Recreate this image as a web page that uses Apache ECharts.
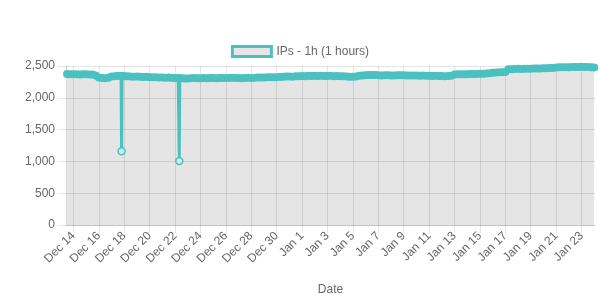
<!DOCTYPE html>
<html><head><meta charset="utf-8">
<script src="https://cdn.jsdelivr.net/npm/echarts@6/dist/echarts.min.js"></script>
<style>html,body{margin:0;padding:0;background:#fff}#c{width:600px;height:300px}</style>
</head><body><div id="c"></div>
<script>
const seriesName = 'IPs - 1h (1 hours)';
const xAxisName = 'Date';
const startTime = '2020-12-13T12:00:00';
const stepHours = 6;
const axisStart = '2020-12-13T10:00:00';
const axisEnd = '2021-01-24T01:30:00';
// 6-hourly readings (00,06,12,18) starting Dec 13 12:00
const ipValues = [
  2375, 2372,
  2370, 2372, 2368, 2370,
  2372, 2368, 2365, 2350,
  2318, 2310, 2308, 2315,
  2335, 2340, 2345, 2342,
  2340, 2338, 2335, 2332,
  2335, 2330, 2328, 2330,
  2325, 2322, 2325, 2320,
  2318, 2315, 2318, 2312,
  2310, 2308, 2308, 2305,
  2305, 2308, 2310, 2306,
  2308, 2310, 2307, 2310,
  2312, 2308, 2310, 2312,
  2310, 2313, 2315, 2312,
  2310, 2308, 2312, 2315,
  2312, 2315, 2318, 2320,
  2318, 2322, 2325, 2322,
  2325, 2328, 2330, 2333,
  2335, 2332, 2338, 2340,
  2342, 2340, 2345, 2343,
  2345, 2342, 2346, 2344,
  2342, 2345, 2340, 2343,
  2340, 2338, 2335, 2332,
  2330, 2335, 2345, 2350,
  2355, 2358, 2360, 2358,
  2355, 2352, 2355, 2353,
  2350, 2352, 2355, 2353,
  2355, 2352, 2350, 2352,
  2350, 2348, 2350, 2347,
  2345, 2343, 2345, 2342,
  2343, 2340, 2342, 2345,
  2365, 2370, 2372, 2370,
  2372, 2375, 2373, 2376,
  2378, 2380, 2382, 2385,
  2395, 2398, 2400, 2402,
  2405, 2448, 2450, 2452,
  2455, 2453, 2455, 2457,
  2458, 2460, 2462, 2460,
  2463, 2465, 2468, 2470,
  2478, 2480, 2482, 2480,
  2482, 2485, 2483, 2485,
  2487, 2485, 2483, 2480,
  2475
];
// single-hour drops, with the readings one hour before and after
const dipTimes = ['2020-12-17T19:00:00', '2020-12-22T08:00:00'];
const dipValues = [1160, 1005];
const dipBefore = [2342, 2308];
const dipAfter = [2342, 2308];

const tickDates = ['2020-12-14','2020-12-16','2020-12-18','2020-12-20','2020-12-22','2020-12-24','2020-12-26','2020-12-28','2020-12-30','2021-01-01','2021-01-03','2021-01-05','2021-01-07','2021-01-09','2021-01-11','2021-01-13','2021-01-15','2021-01-17','2021-01-19','2021-01-21','2021-01-23'];
const tickLabels = ['Dec 14','Dec 16','Dec 18','Dec 20','Dec 22','Dec 24','Dec 26','Dec 28','Dec 30','Jan 1','Jan 3','Jan 5','Jan 7','Jan 9','Jan 11','Jan 13','Jan 15','Jan 17','Jan 19','Jan 21','Jan 23'];
const yMin = 0, yMax = 2500, yStep = 500;

const H = 3600000;
const teal = '#4bc0c0';
const t0 = new Date(startTime).getTime();
let pts = ipValues.map((v, i) => ({value: [t0 + i * stepHours * H, v]}));
dipTimes.forEach((s, i) => {
  const t = new Date(s).getTime();
  pts.push({value: [t - H, dipBefore[i]]});
  pts.push({value: [t, dipValues[i]], symbolSize: 7, itemStyle: {color: '#d5e6e6', borderColor: teal, borderWidth: 1.5}});
  pts.push({value: [t + H, dipAfter[i]]});
});
pts.sort((a, b) => a.value[0] - b.value[0]);

const tickTimes = tickDates.map(d => new Date(d + 'T00:00:00').getTime());
const labelMap = {};
tickTimes.forEach((t, i) => { labelMap[t] = tickLabels[i]; });

const font = 'Liberation Sans, Arial, Helvetica, sans-serif';
const gridColor = 'rgba(0,0,0,0.1)';
const chart = echarts.init(document.getElementById('c'), null, {renderer: 'canvas'});
chart.setOption({
  animation: false,
  textStyle: {fontFamily: font},
  legend: {
    top: 40, left: 'center',
    icon: 'rect', itemWidth: 39, itemHeight: 10, itemGap: 10,
    textStyle: {color: '#666', fontSize: 12, fontFamily: font},
    itemStyle: {color: '#e6e6e6', borderColor: teal, borderWidth: 3},
    data: [seriesName]
  },
  grid: {left: 66, right: 5, top: 66, bottom: 75, containLabel: false, outerBoundsMode: 'none'},
  xAxis: {
    type: 'value',
    min: new Date(axisStart).getTime(),
    max: new Date(axisEnd).getTime(),
    name: xAxisName, nameLocation: 'middle', nameGap: 59,
    nameTextStyle: {color: '#666', fontSize: 12, fontFamily: font},
    axisLine: {show: true, onZero: false, lineStyle: {color: 'rgba(0,0,0,0.15)'}},
    axisTick: {show: true, length: 8, customValues: tickTimes, lineStyle: {color: gridColor}},
    axisLabel: {
      customValues: tickTimes, rotate: 45, margin: 9,
      color: '#666', fontSize: 12, fontFamily: font,
      formatter: v => labelMap[v] || ''
    },
    splitLine: {show: true, lineStyle: {color: gridColor}}
  },
  yAxis: {
    type: 'value', min: yMin, max: yMax, interval: yStep,
    axisLine: {show: true, lineStyle: {color: 'rgba(0,0,0,0.15)'}},
    axisTick: {show: true, length: 8, lineStyle: {color: gridColor}},
    axisLabel: {
      margin: 11, color: '#666', fontSize: 12, fontFamily: font,
      formatter: v => v.toLocaleString('en-US')
    },
    splitLine: {show: true, lineStyle: {color: gridColor}}
  },
  series: [{
    name: seriesName,
    type: 'line',
    data: pts,
    showSymbol: true,
    showAllSymbol: true,
    symbol: 'circle',
    symbolSize: 8,
    lineStyle: {color: teal, width: 3, cap: 'round', join: 'round'},
    itemStyle: {color: teal, borderColor: teal, borderWidth: 0},
    areaStyle: {color: 'rgba(0,0,0,0.1)', opacity: 1, origin: 'start'},
    emphasis: {disabled: true}
  }]
});
</script></body></html>
